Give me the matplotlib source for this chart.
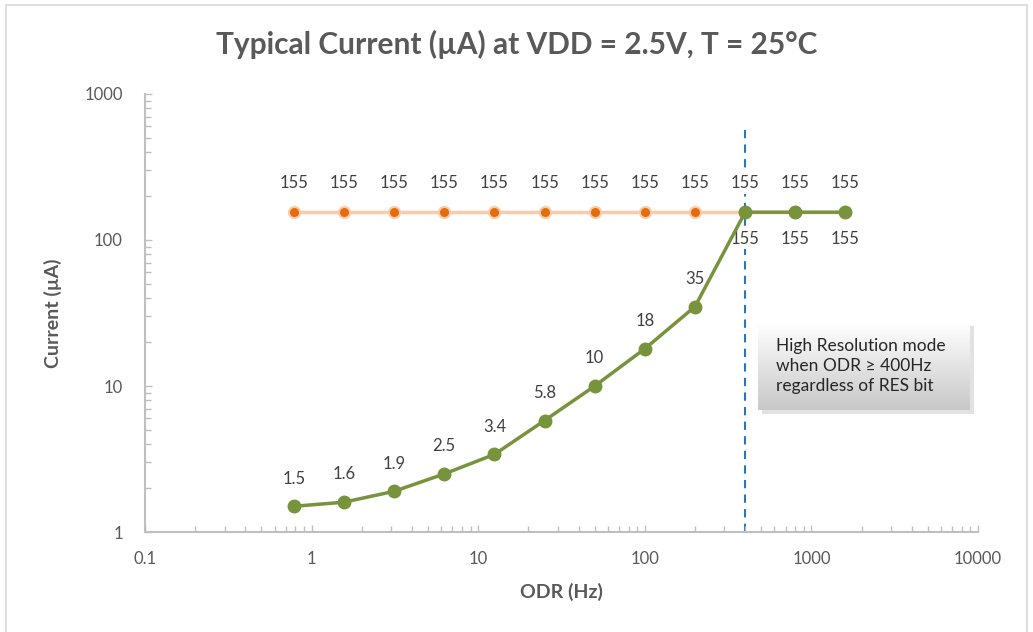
import numpy as np
import matplotlib
matplotlib.use('Agg')
import matplotlib.pyplot as plt
from matplotlib.ticker import LogLocator, FixedLocator, NullFormatter
from matplotlib.patches import Rectangle

plt.rcParams['font.family'] = ['Lato', 'DejaVu Sans']

# data
odr = [0.78, 1.56, 3.125, 6.25, 12.5, 25, 50, 100, 200, 400, 800, 1600]
low_power = [155, 155, 155, 155, 155, 155, 155, 155, 155, 155, 155, 155]
normal = [1.5, 1.6, 1.9, 2.5, 3.4, 5.8, 10, 18, 35, 155, 155, 155]
low_power_labels = ['155'] * 12
normal_labels = ['1.5', '1.6', '1.9', '2.5', '3.4', '5.8', '10', '18', '35', '155', '155', '155']
x_ticks = [0.1, 1, 10, 100, 1000, 10000]
x_tick_labels = ['0.1', '1', '10', '100', '1000', '10000']
y_ticks = [1, 10, 100, 1000]
y_tick_labels = ['1', '10', '100', '1000']
hr_odr = 400

grey = '#595959'
axis_grey = '#BFBFBF'

fig = plt.figure(figsize=(10.33, 6.32), dpi=100)
ax = fig.add_axes([0.1404, 0.1582, 0.8064, 0.6931])

# outer border
fig.patches.append(Rectangle((0.006, -0.01), 0.988, 1.002, transform=fig.transFigure,
                             fill=False, edgecolor='#D9D9D9', linewidth=1.2))

ax.plot(odr, low_power, color='#F8CBAD', linewidth=2.5, zorder=2)
ax.plot(odr, low_power, linestyle='none', marker='o', markersize=8,
        markerfacecolor='#E46C0A', markeredgecolor='#F8CBAD', markeredgewidth=1.5, zorder=3)
ax.plot(odr, normal, color='#77933C', linewidth=2.5, marker='o', markersize=9,
        markerfacecolor='#77933C', markeredgecolor='#77933C', zorder=4)

# labels sit above the dashed line but under the series lines
lbl_box = dict(boxstyle='square,pad=0.15', facecolor='white', edgecolor='none')
for x, y, t in zip(odr, low_power, low_power_labels):
    ax.annotate(t, (x, y), xytext=(0, 21), textcoords='offset points',
                ha='center', va='center', fontsize=12, color='#404040',
                bbox=lbl_box if x == hr_odr else None, zorder=1.5)
for i, (x, y, t) in enumerate(zip(odr, normal, normal_labels)):
    off = -19 if i >= 9 else 20
    ax.annotate(t, (x, y), xytext=(0, off), textcoords='offset points',
                ha='center', va='center', fontsize=12, color='#404040',
                bbox=lbl_box if x == hr_odr else None, zorder=1.5)

ax.axvline(hr_odr, ymin=0, ymax=0.93, color='#2E75B6', linewidth=1.5,
           linestyle=(0, (4, 3)), zorder=1)

ax.set_xscale('log')
ax.set_yscale('log')
ax.set_xlim(0.1, 10000)
ax.set_ylim(1, 1000)
ax.xaxis.set_major_locator(FixedLocator(x_ticks))
ax.set_xticklabels(x_tick_labels)
ax.yaxis.set_major_locator(FixedLocator(y_ticks))
ax.set_yticklabels(y_tick_labels)
ax.xaxis.set_minor_locator(LogLocator(base=10, subs=np.arange(2, 10), numticks=20))
ax.yaxis.set_minor_locator(LogLocator(base=10, subs=np.arange(2, 10), numticks=20))
ax.xaxis.set_minor_formatter(NullFormatter())
ax.yaxis.set_minor_formatter(NullFormatter())

for s in ['top', 'right']:
    ax.spines[s].set_visible(False)
for s in ['left', 'bottom']:
    ax.spines[s].set_color(axis_grey)
    ax.spines[s].set_linewidth(1.5)
ax.tick_params(which='both', direction='in', color=axis_grey, width=1, labelcolor=grey, labelsize=12)
ax.tick_params(which='major', length=5)
ax.tick_params(which='minor', length=4)
ax.tick_params(axis='x', which='major', pad=14)
ax.tick_params(axis='y', which='major', pad=16)

ax.set_xlabel('ODR (Hz)', fontsize=14, fontweight='bold', color=grey, labelpad=11)
ax.set_ylabel('Current (µA)', fontsize=14, fontweight='bold', color=grey, labelpad=16)
fig.text(0.5, 0.93, 'Typical Current (µA) at VDD = 2.5V, T = 25°C', ha='center', va='center',
         fontsize=21.5, fontweight='bold', color=grey)

# annotation box with gradient
bx, by, bw, bh = 758 / 1033, 1 - 410 / 632, 212 / 1033, 88 / 632
fig.patches.append(Rectangle((bx + 0.004, by - 0.007), bw, bh, transform=fig.transFigure,
                             facecolor='#D0D0D0', edgecolor='none', alpha=0.6, zorder=5))
bax = fig.add_axes([bx, by, bw, bh], zorder=6)
grad = np.linspace(0, 1, 100).reshape(-1, 1)
bax.imshow(grad, aspect='auto', cmap=matplotlib.colors.LinearSegmentedColormap.from_list(
    'g', ['#FFFFFF', '#C8C8C8']), extent=[0, 1, 0, 1], origin='upper')
bax.set_axis_off()
bax.text(0.085, 0.5, 'High Resolution mode\nwhen ODR ≥ 400Hz\nregardless of RES bit',
         ha='left', va='center', fontsize=12.5, color='#262626', linespacing=1.3,
         transform=bax.transAxes)

fig.savefig('out.png', dpi=100)
